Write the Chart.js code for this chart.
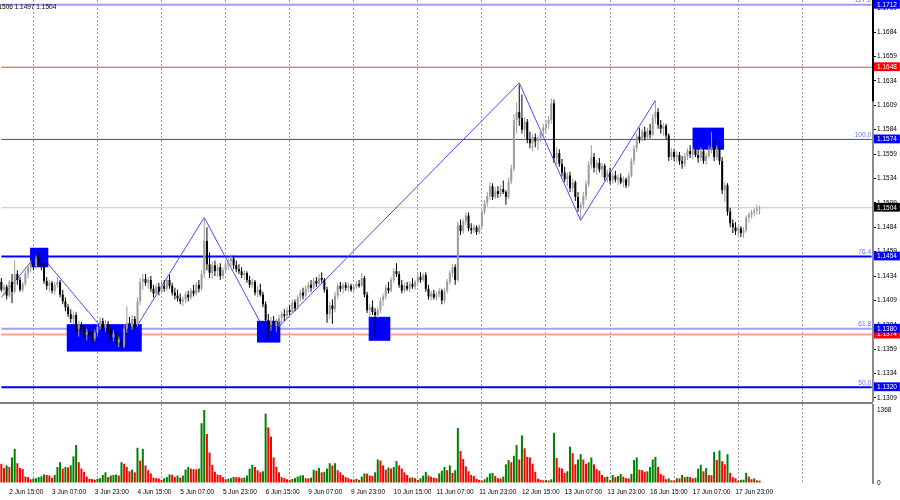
<!DOCTYPE html>
<html>
<head>
<meta charset="utf-8">
<script src="https://cdn.jsdelivr.net/npm/chart.js@4.4.0/dist/chart.umd.min.js"></script>
<style>
  html, body { margin: 0; padding: 0; background: #fff; }
  #wrap { position: relative; width: 900px; height: 500px; overflow: hidden; }
  #priceBox { position: absolute; left: 0; top: 0; width: 900px; height: 402px; }
  #sep { position: absolute; left: 0; top: 402px; width: 873px; height: 2px; background: #808080; }
  #volBox { position: absolute; left: 0; top: 404px; width: 900px; height: 96px; }
</style>
</head>
<body>
<div id="wrap">
  <div id="priceBox"><canvas id="price" width="900" height="402"></canvas></div>
  <div id="sep"></div>
  <div id="volBox"><canvas id="volume" width="900" height="96"></canvas></div>
</div>
<script>
// EURUSD H1, 2 Jun 12:00 .. 18 Jun 08:00
var dayNames = ['2 Jun', '3 Jun', '4 Jun', '5 Jun', '6 Jun', '9 Jun', '10 Jun', '11 Jun',
                '12 Jun', '13 Jun', '16 Jun', '17 Jun', '18 Jun', '19 Jun', '20 Jun'];
var firstHour = 12;
var slotCount = 327;   // bars + empty space on the right

var opens = [
  1.1428,1.1420,1.1423,1.1414,1.1428,1.1418,1.1436,1.1430,1.1420,1.1426,1.1437,1.1443,
  1.1446,1.1444,1.1452,1.1448,1.1445,1.1429,1.1424,1.1427,1.1419,1.1425,1.1428,1.1415,
  1.1408,1.1402,1.1395,1.1390,1.1394,1.1380,1.1384,1.1378,1.1374,1.1377,1.1373,1.1370,
  1.1376,1.1382,1.1388,1.1381,1.1385,1.1377,1.1371,1.1375,1.1366,1.1369,1.1362,1.1380,
  1.1386,1.1382,1.1390,1.1384,1.1408,1.1428,1.1431,1.1427,1.1430,1.1421,1.1416,1.1423,
  1.1418,1.1424,1.1421,1.1430,1.1424,1.1417,1.1414,1.1411,1.1408,1.1410,1.1415,1.1412,
  1.1419,1.1416,1.1425,1.1421,1.1436,1.1470,1.1446,1.1437,1.1445,1.1439,1.1443,1.1434,
  1.1440,1.1446,1.1449,1.1452,1.1445,1.1441,1.1439,1.1435,1.1437,1.1430,1.1425,1.1428,
  1.1417,1.1420,1.1415,1.1405,1.1389,1.1384,1.1388,1.1383,1.1387,1.1391,1.1395,1.1393,
  1.1399,1.1397,1.1407,1.1401,1.1412,1.1417,1.1414,1.1421,1.1425,1.1422,1.1429,1.1426,
  1.1432,1.1430,1.1420,1.1395,1.1404,1.1400,1.1414,1.1424,1.1421,1.1425,1.1422,1.1424,
  1.1420,1.1423,1.1426,1.1424,1.1432,1.1415,1.1399,1.1402,1.1397,1.1394,1.1399,1.1409,
  1.1413,1.1422,1.1419,1.1430,1.1439,1.1436,1.1425,1.1419,1.1424,1.1421,1.1426,1.1423,
  1.1428,1.1433,1.1430,1.1435,1.1421,1.1413,1.1416,1.1412,1.1415,1.1419,1.1409,1.1419,
  1.1428,1.1437,1.1443,1.1430,1.1486,1.1480,1.1490,1.1496,1.1483,1.1481,1.1484,1.1479,
  1.1485,1.1500,1.1509,1.1516,1.1526,1.1515,1.1521,1.1518,1.1523,1.1520,1.1515,1.1531,
  1.1544,1.1594,1.1602,1.1596,1.1584,1.1592,1.1574,1.1570,1.1576,1.1572,1.1575,1.1582,
  1.1586,1.1590,1.1594,1.1611,1.1555,1.1560,1.1549,1.1540,1.1533,1.1537,1.1524,1.1530,
  1.1515,1.1504,1.1507,1.1516,1.1528,1.1548,1.1556,1.1545,1.1550,1.1543,1.1547,1.1535,
  1.1540,1.1532,1.1537,1.1533,1.1535,1.1530,1.1533,1.1527,1.1537,1.1552,1.1565,1.1577,
  1.1574,1.1582,1.1576,1.1583,1.1579,1.1596,1.1602,1.1589,1.1585,1.1588,1.1578,1.1556,
  1.1561,1.1556,1.1558,1.1552,1.1549,1.1557,1.1562,1.1559,1.1563,1.1558,1.1555,1.1562,
  1.1552,1.1557,1.1564,1.1566,1.1556,1.1565,1.1552,1.1522,1.1527,1.1500,1.1488,1.1484,
  1.1480,1.1483,1.1478,1.1481,1.1494,1.1497,1.1499,1.1501,1.1503
];
var highs = [
  1.1432,1.1426,1.1425,1.1430,1.1436,1.1450,1.1440,1.1433,1.1428,1.1440,1.1445,1.1450,
  1.1452,1.1455,1.1458,1.1453,1.1447,1.1433,1.1430,1.1429,1.1428,1.1433,1.1430,1.1420,
  1.1412,1.1405,1.1400,1.1398,1.1397,1.1388,1.1387,1.1383,1.1380,1.1382,1.1378,1.1379,
  1.1385,1.1392,1.1391,1.1389,1.1388,1.1381,1.1379,1.1378,1.1372,1.1373,1.1384,1.1403,
  1.1392,1.1394,1.1393,1.1412,1.1432,1.1436,1.1436,1.1433,1.1434,1.1425,1.1426,1.1427,
  1.1428,1.1430,1.1433,1.1435,1.1427,1.1422,1.1420,1.1416,1.1413,1.1418,1.1419,1.1422,
  1.1425,1.1428,1.1430,1.1440,1.1494,1.1484,1.1458,1.1449,1.1450,1.1446,1.1447,1.1443,
  1.1448,1.1452,1.1456,1.1455,1.1450,1.1446,1.1443,1.1440,1.1439,1.1434,1.1432,1.1430,
  1.1424,1.1426,1.1418,1.1408,1.1395,1.1392,1.1393,1.1390,1.1394,1.1398,1.1400,1.1402,
  1.1404,1.1410,1.1410,1.1414,1.1420,1.1422,1.1424,1.1428,1.1430,1.1432,1.1433,1.1436,
  1.1438,1.1432,1.1423,1.1408,1.1410,1.1418,1.1427,1.1428,1.1427,1.1428,1.1427,1.1426,
  1.1426,1.1429,1.1430,1.1437,1.1434,1.1418,1.1405,1.1409,1.1401,1.1402,1.1412,1.1416,
  1.1425,1.1428,1.1433,1.1442,1.1447,1.1439,1.1430,1.1427,1.1428,1.1429,1.1432,1.1430,
  1.1436,1.1438,1.1437,1.1438,1.1425,1.1419,1.1420,1.1418,1.1422,1.1421,1.1422,1.1431,
  1.1440,1.1446,1.1446,1.1490,1.1492,1.1493,1.1499,1.1499,1.1488,1.1487,1.1486,1.1487,
  1.1502,1.1512,1.1520,1.1530,1.1529,1.1525,1.1526,1.1527,1.1532,1.1522,1.1535,1.1548,
  1.1600,1.1612,1.1630,1.1620,1.1597,1.1595,1.1582,1.1579,1.1580,1.1578,1.1585,1.1590,
  1.1594,1.1598,1.1616,1.1615,1.1566,1.1564,1.1554,1.1546,1.1540,1.1541,1.1534,1.1532,
  1.1520,1.1510,1.1520,1.1532,1.1552,1.1568,1.1560,1.1553,1.1555,1.1550,1.1549,1.1543,
  1.1545,1.1540,1.1542,1.1538,1.1539,1.1536,1.1535,1.1540,1.1555,1.1568,1.1580,1.1586,
  1.1585,1.1587,1.1586,1.1590,1.1600,1.1614,1.1606,1.1594,1.1591,1.1590,1.1580,1.1565,
  1.1564,1.1562,1.1561,1.1557,1.1560,1.1565,1.1568,1.1566,1.1570,1.1564,1.1566,1.1566,
  1.1560,1.1568,1.1582,1.1575,1.1568,1.1568,1.1556,1.1530,1.1529,1.1504,1.1492,1.1489,
  1.1486,1.1485,1.1484,1.1496,1.1500,1.1502,1.1504,1.1507,1.1506
];
var lows = [
  1.1418,1.1414,1.1410,1.1412,1.1406,1.1416,1.1425,1.1418,1.1417,1.1424,1.1432,1.1438,
  1.1440,1.1441,1.1445,1.1440,1.1426,1.1420,1.1418,1.1416,1.1415,1.1422,1.1412,1.1405,
  1.1398,1.1392,1.1386,1.1385,1.1376,1.1372,1.1374,1.1370,1.1368,1.1371,1.1366,1.1367,
  1.1372,1.1379,1.1378,1.1377,1.1374,1.1368,1.1367,1.1364,1.1361,1.1357,1.1360,1.1376,
  1.1378,1.1379,1.1380,1.1382,1.1404,1.1420,1.1424,1.1421,1.1418,1.1412,1.1413,1.1414,
  1.1415,1.1418,1.1419,1.1421,1.1414,1.1410,1.1408,1.1405,1.1403,1.1406,1.1408,1.1410,
  1.1413,1.1414,1.1417,1.1419,1.1432,1.1440,1.1432,1.1431,1.1434,1.1433,1.1430,1.1431,
  1.1437,1.1440,1.1444,1.1441,1.1438,1.1436,1.1432,1.1430,1.1427,1.1422,1.1422,1.1414,
  1.1412,1.1413,1.1402,1.1386,1.1371,1.1378,1.1380,1.1377,1.1382,1.1385,1.1388,1.1390,
  1.1394,1.1395,1.1398,1.1399,1.1408,1.1410,1.1412,1.1417,1.1418,1.1420,1.1423,1.1424,
  1.1427,1.1417,1.1386,1.1390,1.1385,1.1397,1.1411,1.1418,1.1416,1.1419,1.1418,1.1418,
  1.1417,1.1421,1.1422,1.1423,1.1412,1.1396,1.1392,1.1394,1.1370,1.1391,1.1396,1.1403,
  1.1410,1.1416,1.1417,1.1427,1.1433,1.1422,1.1416,1.1417,1.1419,1.1418,1.1421,1.1420,
  1.1425,1.1427,1.1428,1.1418,1.1410,1.1409,1.1410,1.1409,1.1412,1.1405,1.1406,1.1416,
  1.1425,1.1433,1.1425,1.1428,1.1476,1.1477,1.1486,1.1480,1.1477,1.1478,1.1476,1.1477,
  1.1483,1.1497,1.1505,1.1512,1.1512,1.1513,1.1514,1.1515,1.1518,1.1507,1.1513,1.1528,
  1.1541,1.1580,1.1588,1.1580,1.1576,1.1570,1.1565,1.1562,1.1566,1.1563,1.1571,1.1577,
  1.1580,1.1585,1.1590,1.1550,1.1546,1.1546,1.1536,1.1530,1.1526,1.1520,1.1520,1.1511,
  1.1500,1.1492,1.1503,1.1512,1.1525,1.1544,1.1540,1.1538,1.1540,1.1535,1.1532,1.1530,
  1.1528,1.1529,1.1530,1.1527,1.1528,1.1525,1.1524,1.1525,1.1535,1.1548,1.1561,1.1570,
  1.1572,1.1573,1.1574,1.1575,1.1577,1.1590,1.1585,1.1580,1.1578,1.1574,1.1552,1.1553,
  1.1552,1.1550,1.1548,1.1544,1.1546,1.1553,1.1555,1.1554,1.1556,1.1550,1.1552,1.1549,
  1.1548,1.1555,1.1560,1.1552,1.1553,1.1548,1.1518,1.1510,1.1496,1.1484,1.1478,1.1476,
  1.1475,1.1474,1.1473,1.1479,1.1489,1.1493,1.1495,1.1497,1.1497
];
var closes = [
  1.1420,1.1423,1.1414,1.1428,1.1418,1.1436,1.1430,1.1420,1.1426,1.1437,1.1443,1.1446,
  1.1444,1.1452,1.1448,1.1445,1.1429,1.1424,1.1427,1.1419,1.1425,1.1428,1.1415,1.1408,
  1.1402,1.1395,1.1390,1.1394,1.1380,1.1384,1.1378,1.1374,1.1377,1.1373,1.1370,1.1376,
  1.1382,1.1388,1.1381,1.1385,1.1377,1.1371,1.1375,1.1366,1.1369,1.1362,1.1380,1.1386,
  1.1382,1.1390,1.1384,1.1408,1.1428,1.1431,1.1427,1.1430,1.1421,1.1416,1.1423,1.1418,
  1.1424,1.1421,1.1430,1.1424,1.1417,1.1414,1.1411,1.1408,1.1410,1.1415,1.1412,1.1419,
  1.1416,1.1425,1.1421,1.1436,1.1470,1.1446,1.1437,1.1445,1.1439,1.1443,1.1434,1.1440,
  1.1446,1.1449,1.1452,1.1445,1.1441,1.1439,1.1435,1.1437,1.1430,1.1425,1.1428,1.1417,
  1.1420,1.1415,1.1405,1.1389,1.1384,1.1388,1.1383,1.1387,1.1391,1.1395,1.1393,1.1399,
  1.1397,1.1407,1.1401,1.1412,1.1417,1.1414,1.1421,1.1425,1.1422,1.1429,1.1426,1.1432,
  1.1430,1.1420,1.1395,1.1404,1.1400,1.1414,1.1424,1.1421,1.1425,1.1422,1.1424,1.1420,
  1.1423,1.1426,1.1424,1.1432,1.1415,1.1399,1.1402,1.1397,1.1394,1.1399,1.1409,1.1413,
  1.1422,1.1419,1.1430,1.1439,1.1436,1.1425,1.1419,1.1424,1.1421,1.1426,1.1423,1.1428,
  1.1433,1.1430,1.1435,1.1421,1.1413,1.1416,1.1412,1.1415,1.1419,1.1409,1.1419,1.1428,
  1.1437,1.1443,1.1430,1.1486,1.1480,1.1490,1.1496,1.1483,1.1481,1.1484,1.1479,1.1485,
  1.1500,1.1509,1.1516,1.1526,1.1515,1.1521,1.1518,1.1523,1.1520,1.1515,1.1531,1.1544,
  1.1594,1.1602,1.1596,1.1584,1.1592,1.1574,1.1570,1.1576,1.1572,1.1575,1.1582,1.1586,
  1.1590,1.1594,1.1611,1.1555,1.1560,1.1549,1.1540,1.1533,1.1537,1.1524,1.1530,1.1515,
  1.1504,1.1507,1.1516,1.1528,1.1548,1.1556,1.1545,1.1550,1.1543,1.1547,1.1535,1.1540,
  1.1532,1.1537,1.1533,1.1535,1.1530,1.1533,1.1527,1.1537,1.1552,1.1565,1.1577,1.1574,
  1.1582,1.1576,1.1583,1.1579,1.1596,1.1602,1.1589,1.1585,1.1588,1.1578,1.1556,1.1561,
  1.1556,1.1558,1.1552,1.1549,1.1557,1.1562,1.1559,1.1563,1.1558,1.1555,1.1562,1.1552,
  1.1557,1.1564,1.1566,1.1556,1.1565,1.1552,1.1522,1.1527,1.1500,1.1488,1.1484,1.1480,
  1.1483,1.1478,1.1481,1.1494,1.1497,1.1499,1.1501,1.1503,1.1504
];
var volumes = [
  360,280,330,300,480,640,370,280,260,120,110,70,
  85,90,110,125,160,150,140,100,150,300,390,270,
  300,290,330,500,710,390,270,210,120,80,75,60,
  80,90,150,200,110,140,150,160,140,390,360,300,
  220,250,200,660,420,640,330,240,180,100,90,85,
  60,90,110,160,155,115,140,100,140,250,300,270,
  260,255,270,1120,1368,920,570,340,210,160,150,110,
  70,80,90,115,110,105,90,100,140,270,340,300,
  240,200,220,1300,1040,870,480,300,200,110,90,70,
  60,75,90,120,140,145,90,85,100,250,230,280,
  200,210,270,370,330,370,240,200,150,110,90,70,
  65,80,60,120,180,175,140,135,200,440,420,330,
  250,290,270,300,410,330,270,200,150,100,105,90,
  60,90,140,210,140,115,100,90,180,230,300,240,
  330,190,240,1030,600,450,310,220,150,130,80,60,
  45,70,110,180,190,130,90,85,120,350,430,390,
  510,710,440,890,650,490,480,360,210,80,60,50,
  60,48,70,940,470,290,270,190,220,680,560,350,
  440,540,440,360,390,480,350,260,230,150,110,120,
  50,150,110,130,170,120,90,85,170,430,480,250,
  240,210,220,300,440,490,300,170,140,70,85,50,
  48,90,85,150,110,120,110,85,100,270,340,220,
  280,150,145,580,430,610,410,350,540,190,110,90,
  45,60,62,190,120,70,85,50,45
];

// price scale ticks
var priceTicks = [1.1309, 1.1334, 1.1359, 1.1384, 1.1409, 1.1434, 1.1459, 1.1484, 1.1509,
                  1.1534, 1.1559, 1.1584, 1.1609, 1.1634, 1.1659, 1.1684, 1.1709];
var volumeTicks = [0, 1368];

// horizontal levels
var levelPrices = [1.1712, 1.1648, 1.1574, 1.1504, 1.1454, 1.1374, 1.1380, 1.1320];
var levelColors = ['#9c9cff', '#f03c3c', '#3c3cf0', '#c4c4c4', '#0000ff', '#ffa0a0', '#a0a0ff', '#0000e6'];
var levelWidths = [2, 1, 1, 1, 2, 2, 2, 2];
var levelTagColors = ['#0000ff', '#ff0000', '#0000ff', '#000000', '#0000ff', '#ff0000', '#0000ff', '#0000ff'];

// fibo captions
var fibPrices = [1.1712, 1.1574, 1.1454, 1.1380, 1.1320];
var fibTexts = ['127.2', '100.0', '76.4', '61.8', '50.0'];

// zigzag swing points (bar index, price)
var zigBars = [0, 14, 45, 76, 100, 194, 217, 245];
var zigPrices = [1.1412, 1.1458, 1.1357, 1.1494, 1.1371, 1.1632, 1.1491, 1.1614];

// blue zones (from bar, to bar, top, bottom)
var zoneFrom = [10.75, 24.5, 95.75, 137.6, 258.9];
var zoneTo = [17.6, 52.6, 104.5, 145.7, 270.7];
var zoneTop = [1.1463, 1.13847, 1.13881, 1.13922, 1.15861];
var zoneBottom = [1.1443, 1.13566, 1.13658, 1.13676, 1.15635];

// dark part of the price scale line (price range)
var scaleMarkTop = 1.1717;
var scaleMarkBottom = 1.1613;

var labels = [];
dayNames.forEach(function(day, d) {
    for (var h = (d === 0 ? firstHour : 0); h < 24; h++) {
        labels.push(day + ' ' + String(h).padStart(2, '0') + ':00');
    }
});
labels.length = slotCount;

var FONT = { family: 'Liberation Sans', size: 6.5 };
var GRID_GRAY = '#a0a0a0';
var bull = '#9c9c9c', bear = '#000000';
var candleColors = closes.map(function(c, i) { return c >= opens[i] ? bull : bear; });
var volumeColors = volumes.map(function(v, i) { return i > 0 && v > volumes[i - 1] ? '#008000' : '#ff0000'; });

function isDayLine(i) {
    return labels[i] && labels[i].slice(-5) === '00:00' && i <= 300;
}
function isTimeLabel(i) {
    return (i - 3) % 16 === 0 && i < opens.length;
}

var dayGrid = {
    offset: false,
    drawTicks: false,
    color: function(ctx) { return isDayLine(ctx.index) ? GRID_GRAY : 'rgba(0,0,0,0)'; },
    lineWidth: 1
};

// blue zones sit under the candles but over the lines
var zonePlugin = {
    id: 'zones',
    beforeDatasetDraw: function(chart, args) {
        if (args.index !== 1) return;
        var xs = chart.scales.x, ys = chart.scales.y, ctx = chart.ctx;
        ctx.save();
        ctx.fillStyle = '#0000ff';
        zoneFrom.forEach(function(from, k) {
            var left = xs.getPixelForValue(from), right = xs.getPixelForValue(zoneTo[k]);
            var top = ys.getPixelForValue(zoneTop[k]), bottom = ys.getPixelForValue(zoneBottom[k]);
            ctx.fillRect(left, top, right - left, bottom - top);
        });
        ctx.restore();
    }
};

var captionPlugin = {
    id: 'captions',
    afterDraw: function(chart) {
        var ctx = chart.ctx, ys = chart.scales.y, area = chart.chartArea;
        ctx.save();
        // dark stretch of the scale line
        ctx.fillStyle = '#000';
        var t = ys.getPixelForValue(scaleMarkTop), b = ys.getPixelForValue(scaleMarkBottom);
        ctx.fillRect(area.right - 1, t, 2, b - t);

        ctx.font = FONT.size + 'px ' + FONT.family;
        ctx.fillStyle = '#6b6bff';
        ctx.textAlign = 'right';
        ctx.textBaseline = 'bottom';
        fibPrices.forEach(function(p, k) {
            ctx.fillText(fibTexts[k], area.right - 2, ys.getPixelForValue(p) - 1);
        });
        ctx.fillStyle = '#000';
        ctx.textAlign = 'left';
        ctx.textBaseline = 'middle';
        ctx.fillText('1.1506 1.1497 1.1504', -7, 7);
        ctx.restore();
    }
};

var datasets = [
    {
        type: 'bar', label: 'body',
        data: opens.map(function(o, i) { return [Math.min(o, closes[i]), Math.max(o, closes[i])]; }),
        backgroundColor: candleColors, barThickness: 2, minBarLength: 1,
        inflateAmount: 0, grouped: false, order: 0
    },
    {
        type: 'bar', label: 'wick',
        data: lows.map(function(l, i) { return [l, highs[i]]; }),
        backgroundColor: candleColors, barThickness: 1,
        inflateAmount: 0, grouped: false, order: 1
    },
    {
        type: 'line', label: 'zigzag',
        data: zigBars.map(function(b, k) { return { x: labels[b], y: zigPrices[k] }; }),
        borderColor: '#4a4aff', borderWidth: 1, pointRadius: 0, order: 3
    }
];
levelPrices.forEach(function(p, k) {
    datasets.push({
        type: 'line', label: 'level ' + p,
        data: [{ x: labels[0], y: p }, { x: labels[slotCount - 1], y: p }],
        borderColor: levelColors[k], borderWidth: levelWidths[k], pointRadius: 0, order: 4
    });
});

function levelIndex(ctx) {
    return ctx.index - priceTicks.length;
}

new Chart(document.getElementById('price'), {
    type: 'bar',
    data: { labels: labels, datasets: datasets },
    plugins: [zonePlugin, captionPlugin],
    options: {
        responsive: false, animation: false, devicePixelRatio: 1, events: [],
        layout: { padding: 0 },
        plugins: { legend: { display: false }, tooltip: { enabled: false } },
        scales: {
            x: {
                type: 'category', offset: true,
                grid: dayGrid,
                border: { display: false, dash: [2, 2] },
                ticks: { display: false, autoSkip: false },
                afterFit: function(s) { s.height = 0; s.paddingLeft = 0; s.paddingRight = 0; }
            },
            y: {
                position: 'right', min: 1.13049, max: 1.17169, bounds: 'data',
                afterBuildTicks: function(s) {
                    s.ticks = priceTicks.concat(levelPrices).map(function(v) { return { value: v }; });
                },
                afterFit: function(s) { s.width = 27; s.paddingTop = 0; s.paddingBottom = 0; },
                ticks: {
                    autoSkip: false, padding: 1, font: FONT,
                    callback: function(v) { return v.toFixed(4); },
                    color: function(ctx) { return levelIndex(ctx) >= 0 ? '#fff' : '#000'; },
                    showLabelBackdrop: function(ctx) { return levelIndex(ctx) >= 0; },
                    backdropColor: function(ctx) { return levelTagColors[levelIndex(ctx)] || 'rgba(0,0,0,0)'; },
                    backdropPadding: { left: 3, right: 3, top: 1, bottom: 0 }
                },
                grid: {
                    drawOnChartArea: false, drawTicks: true, tickLength: 3,
                    tickColor: function(ctx) { return levelIndex(ctx) >= 0 ? 'rgba(0,0,0,0)' : '#000'; }
                },
                border: { display: true, color: '#8a8a8a', width: 2 }
            }
        }
    }
});

new Chart(document.getElementById('volume'), {
    type: 'bar',
    data: {
        labels: labels,
        datasets: [{
            label: 'volume', data: volumes, backgroundColor: volumeColors,
            barThickness: 2, inflateAmount: 0
        }]
    },
    options: {
        responsive: false, animation: false, devicePixelRatio: 1, events: [],
        layout: { padding: 0 },
        plugins: { legend: { display: false }, tooltip: { enabled: false } },
        scales: {
            x: {
                type: 'category', offset: true,
                grid: dayGrid,
                border: { display: false, dash: [2, 2] },
                ticks: {
                    autoSkip: false, maxRotation: 0, minRotation: 0, align: 'start',
                    padding: 5, font: FONT, color: '#000',
                    callback: function(v, i) { return isTimeLabel(i) ? labels[i] : ''; }
                },
                afterFit: function(s) { s.height = 17; s.paddingLeft = 0; s.paddingRight = 0; }
            },
            y: {
                position: 'right', min: 0, max: 1480, bounds: 'data',
                afterBuildTicks: function(s) {
                    s.ticks = volumeTicks.map(function(v) { return { value: v }; });
                },
                afterFit: function(s) { s.width = 27; s.paddingTop = 0; s.paddingBottom = 0; },
                ticks: {
                    autoSkip: false, padding: 1, font: FONT, color: '#000',
                    callback: function(v) { return String(v); }
                },
                grid: { drawOnChartArea: false, drawTicks: true, tickLength: 3, tickColor: 'rgba(0,0,0,0)' },
                border: { display: true, color: '#8a8a8a', width: 2 }
            }
        }
    }
});
</script>
</body>
</html>
